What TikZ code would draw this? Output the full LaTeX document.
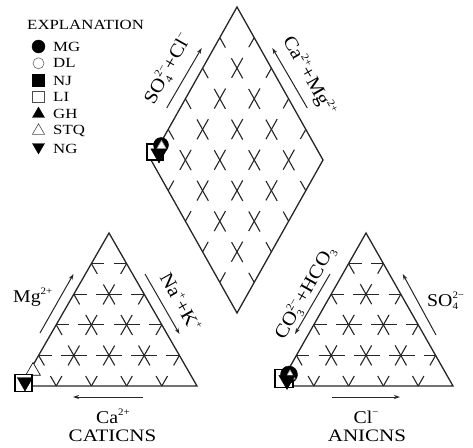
\documentclass[tikz,border=0pt]{standalone}
\usepackage{fontspec}
\setmainfont{Liberation Serif}
\usetikzlibrary{calc,arrows.meta,shapes.geometric}
\newcommand{\ionsup}[1]{\raisebox{0.42em}{\scalebox{0.55}{#1}}}
\newcommand{\ionss}[2]{\makebox[0pt][l]{\raisebox{-0.22em}{\scalebox{0.55}{#1}}}\raisebox{0.42em}{\scalebox{0.55}{#2}}}
\newcommand{\ionsub}[1]{\raisebox{-0.22em}{\scalebox{0.55}{#1}}}
\begin{document}
\begin{tikzpicture}[x=1pt,y=-1pt,
  edge/.style={line width=1.3pt, draw=black!85, line join=miter},
  gridh/.style={line width=1.1pt, draw=black!85, dash pattern=on 26pt off 9.2pt, dash phase=13pt},
  grids/.style={line width=1.1pt, draw=black!85, dash pattern=on 23pt off 12.2pt, dash phase=11.5pt},
  arr/.style={line width=1pt, draw=black!85, -{Stealth[length=6pt,width=4pt]}},
  lbl/.style={font=\fontsize{18}{18}\selectfont, inner sep=0pt, xscale=1.1},
  rlbl/.style={font=\fontsize{19}{19}\selectfont, inner sep=0pt},
  ttl/.style={font=\fontsize{17.5}{17.5}\selectfont, inner sep=0pt, xscale=1.2, anchor=base},
  leg/.style={font=\fontsize{14}{14}\selectfont, xscale=1.2, anchor=base west, inner sep=0pt},
  fcirc/.style={circle, fill=black, draw=black, inner sep=0pt, minimum size=#1},
  ocirc/.style={circle, fill=white, draw=black!60, line width=0.6pt, inner sep=0pt, minimum size=#1},
  fsq/.style={rectangle, fill=black, draw=black, inner sep=0pt, minimum size=#1},
  osq/.style={rectangle, fill=white, draw=black!70, line width=0.8pt, inner sep=0pt, minimum size=#1},
  ftri/.style={regular polygon, regular polygon sides=3, fill=black, draw=black, inner sep=0pt, minimum size=#1},
  otri/.style={regular polygon, regular polygon sides=3, fill=white, draw=black!70, line width=0.6pt, inner sep=0pt, minimum size=#1},
  dtri/.style={regular polygon, regular polygon sides=3, shape border rotate=180, fill=black, draw=black, inner sep=0pt, minimum size=#1}
]
\useasboundingbox (0,0) rectangle (473,447);

% ---------- legend ----------
\node[leg] (explan) at (27,29.3) {EXPLANATION};
\node[fcirc=13pt] (sMG) at (38.5,46.5) {};
\node[leg] (lMG) at (53,51) {MG};
\node[ocirc=11pt] (sDL) at (38.5,63.3) {};
\node[leg] (lDL) at (53,67.7) {DL};
\node[fsq=12pt] (sNJ) at (38.5,80) {};
\node[leg] (lNJ) at (53,85) {NJ};
\node[osq=11.5pt] (sLI) at (38.5,96.7) {};
\node[leg] (lLI) at (53,101.7) {LI};
\node[ftri=13.9pt] (sGH) at (38.5,114) {};
\node[leg] (lGH) at (53,118.3) {GH};
\node[otri=14pt] (sSTQ) at (38.5,130.8) {};
\node[leg] (lSTQ) at (53,134.6) {STQ};
\node[dtri=13.9pt] (sNG) at (38.5,147) {};
\node[leg] (lNG) at (53,153) {NG};

% ---------- diamond ----------
\coordinate (dL) at (151,160);
\coordinate (dT) at (237,7);
\coordinate (dR) at (323,160);
\coordinate (dB) at (237,313);
\foreach \f in {0.2,0.4,0.6,0.8} {
  \draw[grids] ($(dL)!\f!(dT)$) -- ($(dB)!\f!(dR)$);
  \draw[grids] ($(dL)!\f!(dB)$) -- ($(dT)!\f!(dR)$);
}
\draw[edge] (dL) -- (dT) -- (dR) -- (dB) -- cycle;

\coordinate (a1s) at (166.7,108);
\coordinate (a1e) at (201.7,48);
\draw[arr] (a1s) -- (a1e);
\node[rlbl, rotate=60.6, xscale=1.1] (lSO4Cl) at (168,69) {SO\ionss{4}{2−}+Cl\ionsup{−}};
\coordinate (a2s) at (307.3,108);
\coordinate (a2e) at (272.3,48);
\draw[arr] (a2s) -- (a2e);
\node[rlbl, rotate=-60.6, xscale=1.1] (lCaMg) at (309,76) {Ca\ionsup{2+}+Mg\ionsup{2+}};

% diamond data
\node[osq=16pt, draw=black, line width=1.4pt] (dpSq) at (155,152) {};
\node[fcirc=15pt] (dpC) at (161,145) {};
\node[otri=12pt, draw=black!40] (dpT) at (161.5,146.5) {};
\node[dtri=19pt] (dpN) at (159,153.5) {};

% ---------- left triangle (cations) ----------
\coordinate (cA) at (21,386);
\coordinate (cB) at (197,386);
\coordinate (cC) at (109,233);
\foreach \f in {0.2,0.4,0.6,0.8} {
  \draw[gridh] ($(cA)!\f!(cC)$) -- ($(cB)!\f!(cC)$);
  \draw[grids] ($(cA)!\f!(cB)$) -- ($(cC)!\f!(cB)$);
  \draw[grids] ($(cA)!\f!(cB)$) -- ($(cA)!\f!(cC)$);
}
\draw[edge] (cA) -- (cB) -- (cC) -- cycle;

\coordinate (b1s) at (40,333);
\coordinate (b1e) at (73.5,274);
\draw[arr] (b1s) -- (b1e);
\node[lbl, anchor=base west] (lMg) at (13,302) {Mg\ionsup{2+}};
\coordinate (b2s) at (145,274);
\coordinate (b2e) at (179.5,334);
\draw[arr] (b2s) -- (b2e);
\node[rlbl, rotate=-60.6, xscale=1.1] (lNaK) at (181,302) {Na\ionsup{+}+K\ionsup{+}};
\coordinate (b3s) at (143,397);
\coordinate (b3e) at (73,397);
\draw[arr] (b3s) -- (b3e);
\node[lbl, anchor=base] (lCa) at (113,423.5) {Ca\ionsup{2+}};
\node[ttl] (lCat) at (112.5,441.5) {CATICNS};

% cation data
\node[otri=17pt, draw=black] (cpT) at (33,371) {};
\node[osq=17pt, draw=black, line width=1.2pt] (cpSq) at (23.5,383) {};
\node[dtri=18pt] (cpN) at (25,382) {};

% ---------- right triangle (anions) ----------
\coordinate (nA) at (279,386);
\coordinate (nB) at (453,386);
\coordinate (nC) at (366,233);
\foreach \f in {0.2,0.4,0.6,0.8} {
  \draw[gridh] ($(nA)!\f!(nC)$) -- ($(nB)!\f!(nC)$);
  \draw[grids] ($(nA)!\f!(nB)$) -- ($(nC)!\f!(nB)$);
  \draw[grids] ($(nA)!\f!(nB)$) -- ($(nA)!\f!(nC)$);
}
\draw[edge] (nA) -- (nB) -- (nC) -- cycle;

\coordinate (c1s) at (330,274);
\coordinate (c1e) at (295,334);
\draw[arr] (c1s) -- (c1e);
\node[rlbl, rotate=60.6, xscale=1.1] (lCO3) at (305,293) {CO\ionss{3}{2−}+HCO\ionsub{3}};
\coordinate (c2s) at (436,335);
\coordinate (c2e) at (402.7,274);
\draw[arr] (c2s) -- (c2e);
\node[lbl, anchor=base west] (lSO4) at (427,306) {SO\ionss{4}{2−}};
\coordinate (c3s) at (332,397);
\coordinate (c3e) at (400,397);
\draw[arr] (c3s) -- (c3e);
\node[lbl, anchor=base] (lCl) at (366,423.5) {Cl\ionsup{−}};
\node[ttl] (lAn) at (367,441.5) {ANICNS};

% anion data
\node[osq=18pt, draw=black, line width=1.3pt] (npSq) at (284,378.5) {};
\node[fcirc=17pt] (npC) at (289,374.5) {};
\node[otri=12pt, draw=black!40] (npT) at (290,376) {};
\node[dtri=19pt] (npN) at (287,380) {};
\end{tikzpicture}
\end{document}
